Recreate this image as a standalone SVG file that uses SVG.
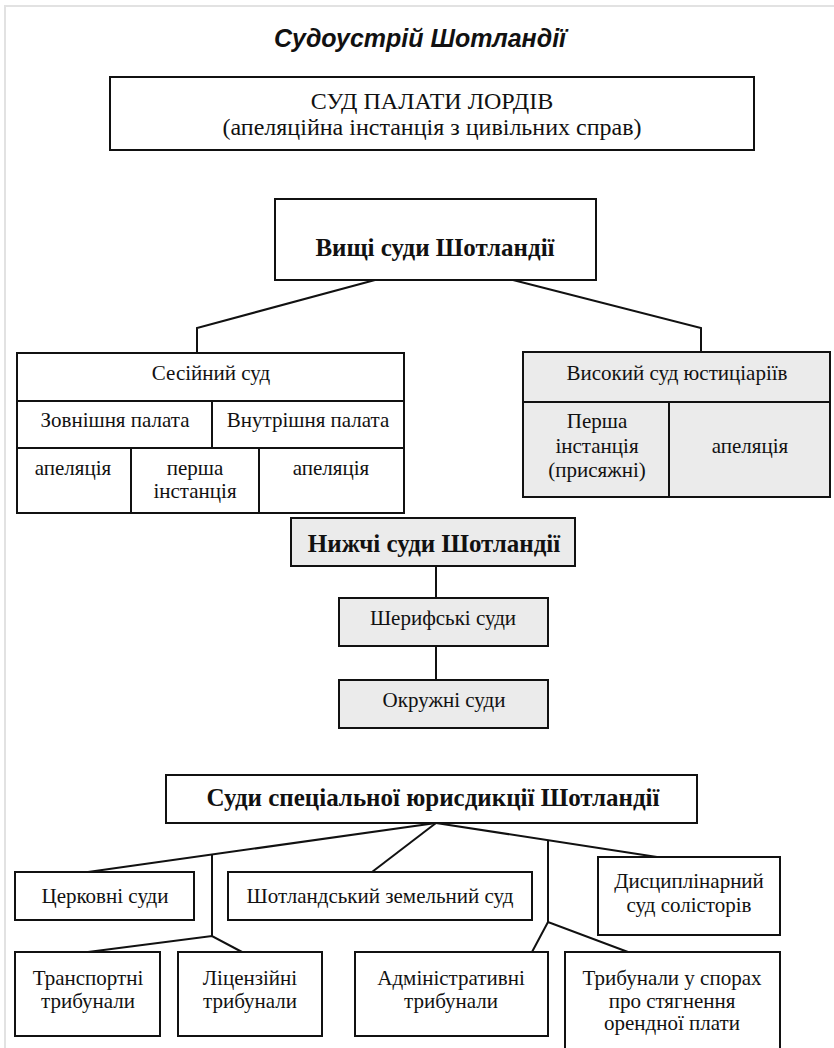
<svg xmlns="http://www.w3.org/2000/svg" width="834" height="1048" viewBox="0 0 834 1048">
  <style>
    .box { fill: #ffffff; stroke: #111111; stroke-width: 2; }
    .shade { fill: #ebebeb; stroke: #111111; stroke-width: 2; }
    .div { stroke: #111111; stroke-width: 2; fill: none; }
    .t { font-family: "Liberation Serif", "Times New Roman", serif; font-size: 21px; fill: #111111; text-anchor: middle; }
    .tl { font-size: 24px; }
    .tb { font-family: "Liberation Serif", "Times New Roman", serif; font-size: 25px; font-weight: bold; fill: #111111; text-anchor: middle; }
    .title { font-family: "Liberation Sans", Arial, sans-serif; font-size: 25px; font-weight: bold; font-style: italic; fill: #111111; text-anchor: middle; }
    .links line, .links polyline { stroke: #111111; stroke-width: 2; fill: none; }
  </style>

  <rect x="0" y="0" width="834" height="1048" fill="#ffffff"/>
  <!-- page frame -->
  <polyline points="5,1048 5,6 834,6" fill="none" stroke="#e2e2e2" stroke-width="2"/>

  <text class="title" x="420" y="47">Судоустрій Шотландії</text>

  <!-- connectors -->
  <g id="connectors" class="links">
    <polyline points="375,280 197,328 197,353"/>
    <polyline points="513,280 701,328 701,352"/>
    <line x1="436" y1="566" x2="436" y2="598"/>
    <line x1="436" y1="646" x2="436" y2="680"/>
    <line x1="436" y1="823" x2="88" y2="872"/>
    <line x1="436" y1="823" x2="372" y2="872"/>
    <line x1="436" y1="823" x2="657" y2="857"/>
    <line x1="212" y1="854" x2="212" y2="936"/>
    <polyline points="88,952 212,936 242,952"/>
    <line x1="548" y1="840" x2="548" y2="922"/>
    <polyline points="532,952 548,922 628,952"/>
  </g>

  <g id="lords">
    <rect class="box" x="110" y="77" width="644" height="73"/>
    <text class="t tl" x="432" y="109">СУД ПАЛАТИ ЛОРДІВ</text>
    <text class="t tl" x="432" y="135">(апеляційна інстанція з цивільних справ)</text>
  </g>

  <g id="higher">
    <rect class="box" x="275" y="199" width="321" height="81"/>
    <text class="tb" x="435" y="256">Вищі суди Шотландії</text>
  </g>

  <g id="session">
    <rect class="box" x="17" y="353" width="387" height="160"/>
    <line class="div" x1="17" y1="401" x2="404" y2="401"/>
    <line class="div" x1="17" y1="448" x2="404" y2="448"/>
    <line class="div" x1="212" y1="401" x2="212" y2="448"/>
    <line class="div" x1="131" y1="448" x2="131" y2="513"/>
    <line class="div" x1="259" y1="448" x2="259" y2="513"/>
    <text class="t" x="211" y="380">Сесійний суд</text>
    <text class="t" x="115" y="427">Зовнішня палата</text>
    <text class="t" x="308" y="427">Внутрішня палата</text>
    <text class="t" x="73" y="475">апеляція</text>
    <text class="t" x="195" y="475">перша</text>
    <text class="t" x="195" y="498">інстанція</text>
    <text class="t" x="331" y="475">апеляція</text>
  </g>

  <g id="justiciary">
    <rect class="shade" x="523" y="352" width="307" height="145"/>
    <line class="div" x1="523" y1="402" x2="830" y2="402"/>
    <line class="div" x1="669" y1="402" x2="669" y2="497"/>
    <text class="t" x="677" y="380">Високий суд юстиціаріїв</text>
    <text class="t" x="597" y="428">Перша</text>
    <text class="t" x="597" y="453">інстанція</text>
    <text class="t" x="597" y="477">(присяжні)</text>
    <text class="t" x="750" y="453">апеляція</text>
  </g>

  <g id="lower">
    <rect class="shade" x="291" y="518" width="284" height="48"/>
    <text class="tb" x="434" y="552">Нижчі суди Шотландії</text>
  </g>

  <g id="sheriff">
    <rect class="shade" x="339" y="598" width="209" height="48"/>
    <text class="t" x="443" y="625">Шерифські суди</text>
  </g>

  <g id="district">
    <rect class="shade" x="339" y="680" width="209" height="48"/>
    <text class="t" x="444" y="707">Окружні суди</text>
  </g>

  <g id="special">
    <rect class="box" x="166" y="775" width="531" height="48"/>
    <text class="tb" x="433" y="806">Суди спеціальної юрисдикції Шотландії</text>
  </g>

  <g id="church">
    <rect class="box" x="15" y="872" width="179" height="48"/>
    <text class="t" x="105" y="903">Церковні суди</text>
  </g>

  <g id="land">
    <rect class="box" x="228" y="872" width="304" height="48"/>
    <text class="t" x="380" y="903">Шотландський земельний суд</text>
  </g>

  <g id="solicitors">
    <rect class="box" x="598" y="857" width="182" height="78"/>
    <text class="t" x="689" y="888">Дисциплінарний</text>
    <text class="t" x="689" y="912">суд солісторів</text>
  </g>

  <g id="transport">
    <rect class="box" x="15" y="952" width="145" height="84"/>
    <text class="t" x="88" y="985">Транспортні</text>
    <text class="t" x="88" y="1008">трибунали</text>
  </g>

  <g id="licensing">
    <rect class="box" x="178" y="952" width="144" height="84"/>
    <text class="t" x="250" y="985">Ліцензійні</text>
    <text class="t" x="250" y="1008">трибунали</text>
  </g>

  <g id="administrative">
    <rect class="box" x="355" y="952" width="193" height="84"/>
    <text class="t" x="451" y="985">Адміністративні</text>
    <text class="t" x="451" y="1008">трибунали</text>
  </g>

  <g id="rent">
    <rect class="box" x="565" y="952" width="215" height="100"/>
    <text class="t" x="672" y="985">Трибунали у спорах</text>
    <text class="t" x="672" y="1008">про стягнення</text>
    <text class="t" x="672" y="1030">орендної плати</text>
  </g>
</svg>
